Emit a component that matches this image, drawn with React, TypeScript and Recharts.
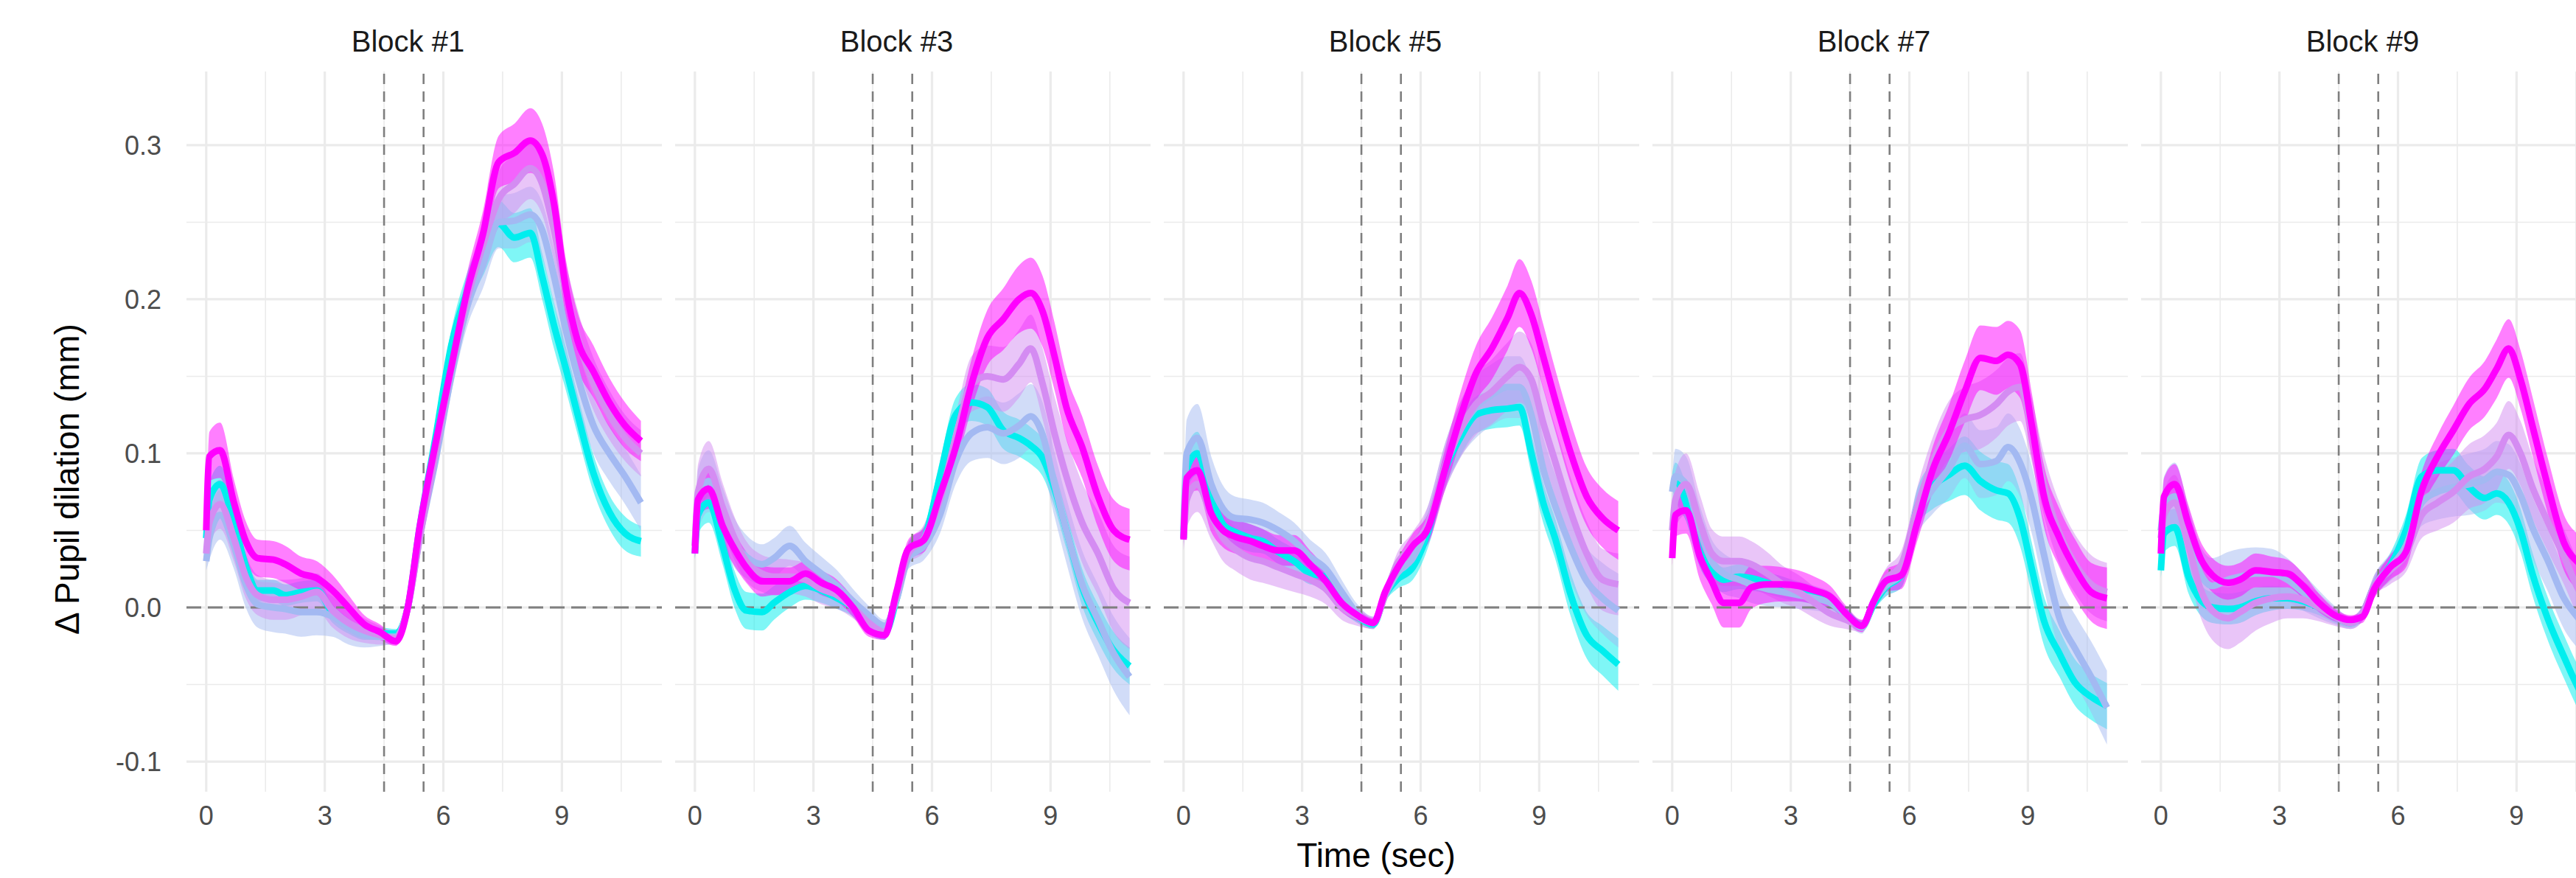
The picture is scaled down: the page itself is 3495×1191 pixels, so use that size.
import React from 'react';
import { ComposedChart, Area, Line, XAxis, YAxis, ReferenceLine } from 'recharts';

// ---------- data ----------
const TIME = [0, 0.08, 0.35, 0.7, 1.0, 1.3, 1.7, 2.0, 2.4, 2.8, 3.2, 3.6, 4.0, 4.4, 4.8, 5.1, 5.4, 5.8, 6.2, 6.6, 7.0, 7.4, 7.8, 8.2, 8.5, 8.8, 9.1, 9.4, 9.8, 10.2, 10.6, 11.0];

const BLOCK_LABELS = ['Block #1', 'Block #3', 'Block #5', 'Block #7', 'Block #9'];
const X_TICKS = [0, 3, 6, 9];
const X_MINOR = [1.5, 4.5, 7.5, 10.5];
const Y_TICKS = [-0.1, 0.0, 0.1, 0.2, 0.3];
const Y_MINOR = [-0.05, 0.05, 0.15, 0.25];
const EVENT_LINES = [4.5, 5.5];

// Block #1
const CYAN_1 = [0.045, 0.07, 0.08, 0.055, 0.027, 0.011, 0.011, 0.008, 0.01, 0.011, -0.004, -0.012, -0.017, -0.017, -0.017, 0.0, 0.052, 0.11, 0.17, 0.205, 0.228, 0.249, 0.24, 0.243, 0.215, 0.183, 0.155, 0.125, 0.087, 0.062, 0.048, 0.043];
const BLUE_1 = [0.03, 0.045, 0.06, 0.04, 0.015, 0.002, 0.0, -0.001, -0.003, -0.003, -0.006, -0.013, -0.018, -0.019, -0.019, 0.0, 0.045, 0.095, 0.15, 0.195, 0.222, 0.25, 0.251, 0.255, 0.245, 0.215, 0.18, 0.15, 0.118, 0.1, 0.085, 0.068];
const LILAC_1 = [0.035, 0.055, 0.067, 0.045, 0.02, 0.008, 0.005, 0.005, 0.007, 0.01, -0.002, -0.01, -0.015, -0.018, -0.02, 0.0, 0.045, 0.1, 0.155, 0.2, 0.235, 0.265, 0.275, 0.285, 0.275, 0.245, 0.205, 0.175, 0.145, 0.125, 0.11, 0.1];
const MAGENTA_1 = [0.05, 0.098, 0.102, 0.068, 0.043, 0.032, 0.031, 0.028, 0.022, 0.019, 0.011, 0.0, -0.011, -0.016, -0.022, 0.0, 0.052, 0.106, 0.156, 0.205, 0.242, 0.289, 0.295, 0.303, 0.294, 0.262, 0.207, 0.173, 0.153, 0.133, 0.118, 0.108];
const SE_CYAN_1 = [0.004, 0.011, 0.012, 0.01, 0.008, 0.007, 0.007, 0.007, 0.007, 0.007, 0.006, 0.005, 0.004, 0.004, 0.003, 0.004, 0.006, 0.008, 0.01, 0.012, 0.013, 0.015, 0.016, 0.016, 0.015, 0.015, 0.014, 0.013, 0.012, 0.011, 0.011, 0.01];
const SE_BLUE_1 = [0.006, 0.014, 0.016, 0.015, 0.015, 0.015, 0.016, 0.016, 0.016, 0.015, 0.013, 0.011, 0.008, 0.006, 0.004, 0.005, 0.007, 0.009, 0.011, 0.013, 0.015, 0.017, 0.018, 0.018, 0.018, 0.018, 0.018, 0.018, 0.018, 0.018, 0.018, 0.018];
const SE_LILAC_1 = [0.006, 0.014, 0.016, 0.015, 0.014, 0.013, 0.013, 0.013, 0.012, 0.012, 0.011, 0.01, 0.008, 0.006, 0.004, 0.005, 0.007, 0.009, 0.011, 0.013, 0.015, 0.018, 0.019, 0.02, 0.02, 0.02, 0.019, 0.018, 0.017, 0.016, 0.015, 0.015];
const SE_MAGENTA_1 = [0.004, 0.016, 0.018, 0.015, 0.013, 0.012, 0.012, 0.012, 0.011, 0.011, 0.01, 0.008, 0.006, 0.005, 0.003, 0.004, 0.006, 0.008, 0.01, 0.012, 0.015, 0.017, 0.019, 0.021, 0.02, 0.02, 0.019, 0.018, 0.017, 0.016, 0.015, 0.013];

// Block #3
const CYAN_3 = [0.035, 0.06, 0.068, 0.04, 0.012, -0.002, -0.003, 0.003, 0.01, 0.014, 0.011, 0.006, 0.0, -0.012, -0.017, 0.005, 0.036, 0.045, 0.085, 0.125, 0.133, 0.13, 0.115, 0.11, 0.105, 0.097, 0.077, 0.05, 0.013, -0.01, -0.028, -0.038];
const BLUE_3 = [0.04, 0.07, 0.082, 0.06, 0.042, 0.033, 0.028, 0.032, 0.04, 0.03, 0.022, 0.014, 0.004, -0.005, -0.012, 0.005, 0.032, 0.04, 0.06, 0.095, 0.113, 0.117, 0.113, 0.118, 0.124, 0.112, 0.08, 0.05, 0.015, -0.008, -0.03, -0.045];
const LILAC_3 = [0.04, 0.075, 0.09, 0.065, 0.045, 0.03, 0.022, 0.02, 0.02, 0.018, 0.012, 0.008, 0.0, -0.01, -0.016, 0.008, 0.035, 0.045, 0.07, 0.11, 0.145, 0.15, 0.148, 0.158, 0.168, 0.145, 0.113, 0.085, 0.055, 0.035, 0.012, 0.003];
const MAGENTA_3 = [0.035, 0.07, 0.077, 0.053, 0.038, 0.026, 0.017, 0.017, 0.017, 0.022, 0.016, 0.011, 0.0, -0.015, -0.018, 0.01, 0.038, 0.044, 0.073, 0.104, 0.145, 0.175, 0.187, 0.2, 0.204, 0.192, 0.163, 0.13, 0.104, 0.072, 0.05, 0.044];
const SE_CYAN_3 = [0.005, 0.012, 0.013, 0.012, 0.012, 0.012, 0.012, 0.011, 0.01, 0.009, 0.008, 0.007, 0.006, 0.005, 0.004, 0.005, 0.006, 0.008, 0.01, 0.011, 0.012, 0.012, 0.012, 0.012, 0.012, 0.012, 0.012, 0.012, 0.012, 0.012, 0.012, 0.012];
const SE_BLUE_3 = [0.008, 0.02, 0.02, 0.018, 0.016, 0.014, 0.013, 0.013, 0.013, 0.012, 0.011, 0.01, 0.008, 0.006, 0.004, 0.005, 0.007, 0.009, 0.012, 0.015, 0.018, 0.02, 0.02, 0.021, 0.021, 0.021, 0.021, 0.021, 0.022, 0.023, 0.024, 0.025];
const SE_LILAC_3 = [0.008, 0.018, 0.018, 0.016, 0.014, 0.013, 0.012, 0.012, 0.011, 0.011, 0.01, 0.009, 0.007, 0.005, 0.004, 0.005, 0.007, 0.009, 0.012, 0.015, 0.018, 0.02, 0.021, 0.022, 0.022, 0.023, 0.024, 0.025, 0.026, 0.027, 0.028, 0.03];
const SE_MAGENTA_3 = [0.005, 0.012, 0.013, 0.012, 0.011, 0.01, 0.01, 0.009, 0.009, 0.008, 0.008, 0.007, 0.006, 0.004, 0.003, 0.004, 0.006, 0.008, 0.01, 0.013, 0.016, 0.018, 0.02, 0.022, 0.023, 0.023, 0.022, 0.021, 0.02, 0.02, 0.02, 0.02];

// Block #5
const CYAN_5 = [0.045, 0.09, 0.1, 0.072, 0.054, 0.049, 0.045, 0.043, 0.036, 0.03, 0.022, 0.02, 0.003, -0.006, -0.011, 0.008, 0.018, 0.026, 0.05, 0.088, 0.11, 0.125, 0.128, 0.129, 0.13, 0.1, 0.068, 0.045, 0.008, -0.018, -0.028, -0.037];
const BLUE_5 = [0.05, 0.1, 0.11, 0.08, 0.064, 0.058, 0.057, 0.055, 0.05, 0.043, 0.033, 0.025, 0.01, -0.004, -0.01, 0.008, 0.022, 0.032, 0.055, 0.09, 0.115, 0.13, 0.138, 0.143, 0.143, 0.125, 0.09, 0.066, 0.039, 0.017, 0.006, -0.002];
const LILAC_5 = [0.045, 0.07, 0.08, 0.06, 0.045, 0.038, 0.032, 0.03, 0.026, 0.022, 0.018, 0.012, 0.0, -0.006, -0.01, 0.008, 0.028, 0.04, 0.055, 0.09, 0.115, 0.132, 0.14, 0.15, 0.156, 0.148, 0.12, 0.095, 0.062, 0.035, 0.018, 0.015];
const MAGENTA_5 = [0.044, 0.084, 0.089, 0.061, 0.05, 0.046, 0.043, 0.04, 0.037, 0.037, 0.028, 0.017, 0.003, -0.005, -0.01, 0.01, 0.025, 0.04, 0.052, 0.088, 0.123, 0.152, 0.168, 0.188, 0.204, 0.19, 0.163, 0.135, 0.1, 0.072, 0.058, 0.05];
const SE_CYAN_5 = [0.005, 0.014, 0.014, 0.012, 0.01, 0.009, 0.009, 0.008, 0.008, 0.008, 0.007, 0.006, 0.005, 0.004, 0.003, 0.004, 0.006, 0.008, 0.01, 0.011, 0.012, 0.012, 0.012, 0.012, 0.012, 0.013, 0.013, 0.013, 0.014, 0.015, 0.016, 0.017];
const SE_BLUE_5 = [0.008, 0.022, 0.022, 0.018, 0.015, 0.014, 0.013, 0.013, 0.012, 0.012, 0.011, 0.01, 0.008, 0.006, 0.004, 0.005, 0.007, 0.009, 0.012, 0.015, 0.018, 0.02, 0.02, 0.02, 0.02, 0.021, 0.021, 0.021, 0.022, 0.022, 0.023, 0.024];
const SE_LILAC_5 = [0.008, 0.018, 0.018, 0.016, 0.015, 0.014, 0.014, 0.014, 0.013, 0.012, 0.011, 0.01, 0.008, 0.006, 0.004, 0.005, 0.007, 0.009, 0.012, 0.015, 0.018, 0.02, 0.021, 0.022, 0.023, 0.023, 0.023, 0.023, 0.022, 0.021, 0.02, 0.02];
const SE_MAGENTA_5 = [0.005, 0.012, 0.013, 0.012, 0.011, 0.011, 0.011, 0.011, 0.01, 0.01, 0.009, 0.008, 0.006, 0.004, 0.003, 0.004, 0.006, 0.008, 0.01, 0.013, 0.016, 0.018, 0.02, 0.021, 0.022, 0.022, 0.021, 0.02, 0.02, 0.019, 0.019, 0.019];

// Block #7
const CYAN_7 = [0.082, 0.082, 0.068, 0.036, 0.024, 0.018, 0.02, 0.019, 0.016, 0.013, 0.01, 0.007, 0.004, -0.004, -0.012, 0.002, 0.013, 0.021, 0.065, 0.079, 0.086, 0.092, 0.082, 0.076, 0.074, 0.058, 0.025, -0.008, -0.03, -0.049, -0.058, -0.064];
const BLUE_7 = [0.075, 0.085, 0.08, 0.05, 0.03, 0.022, 0.018, 0.015, 0.012, 0.01, 0.008, 0.006, 0.003, -0.005, -0.013, 0.004, 0.014, 0.022, 0.06, 0.077, 0.09, 0.105, 0.093, 0.095, 0.104, 0.094, 0.07, 0.035, -0.007, -0.027, -0.045, -0.065];
const LILAC_7 = [0.05, 0.07, 0.08, 0.055, 0.035, 0.03, 0.03, 0.028, 0.022, 0.015, 0.01, 0.003, -0.004, -0.008, -0.012, 0.004, 0.018, 0.028, 0.065, 0.095, 0.115, 0.122, 0.125, 0.132, 0.14, 0.143, 0.115, 0.08, 0.048, 0.028, 0.015, 0.01];
const MAGENTA_7 = [0.032, 0.06, 0.063, 0.033, 0.017, 0.003, 0.003, 0.013, 0.015, 0.015, 0.014, 0.011, 0.007, -0.004, -0.012, 0.004, 0.017, 0.021, 0.055, 0.09, 0.113, 0.14, 0.162, 0.16, 0.164, 0.158, 0.118, 0.073, 0.045, 0.025, 0.01, 0.006];
const SE_CYAN_7 = [0.005, 0.012, 0.012, 0.01, 0.009, 0.008, 0.008, 0.008, 0.007, 0.007, 0.006, 0.005, 0.005, 0.004, 0.003, 0.004, 0.006, 0.008, 0.012, 0.015, 0.017, 0.019, 0.019, 0.019, 0.019, 0.018, 0.017, 0.016, 0.015, 0.015, 0.015, 0.015];
const SE_BLUE_7 = [0.008, 0.018, 0.018, 0.016, 0.014, 0.013, 0.012, 0.012, 0.011, 0.01, 0.009, 0.008, 0.007, 0.005, 0.004, 0.005, 0.007, 0.009, 0.013, 0.016, 0.019, 0.021, 0.022, 0.022, 0.022, 0.022, 0.022, 0.022, 0.022, 0.022, 0.023, 0.024];
const SE_LILAC_7 = [0.008, 0.018, 0.02, 0.018, 0.016, 0.016, 0.016, 0.015, 0.014, 0.012, 0.011, 0.01, 0.008, 0.006, 0.004, 0.005, 0.007, 0.009, 0.013, 0.016, 0.019, 0.021, 0.022, 0.022, 0.022, 0.022, 0.021, 0.02, 0.02, 0.019, 0.019, 0.019];
const SE_MAGENTA_7 = [0.005, 0.014, 0.015, 0.015, 0.015, 0.016, 0.016, 0.014, 0.012, 0.011, 0.01, 0.009, 0.007, 0.005, 0.004, 0.005, 0.007, 0.009, 0.012, 0.015, 0.018, 0.02, 0.021, 0.022, 0.022, 0.022, 0.021, 0.02, 0.019, 0.019, 0.019, 0.02];

// Block #9
const CYAN_9 = [0.024, 0.048, 0.052, 0.02, 0.005, 0.0, -0.001, 0.0, 0.004, 0.006, 0.006, 0.004, 0.0, -0.006, -0.01, -0.004, 0.014, 0.027, 0.05, 0.085, 0.089, 0.089, 0.078, 0.071, 0.074, 0.068, 0.05, 0.022, -0.008, -0.032, -0.054, -0.068];
const BLUE_9 = [0.05, 0.065, 0.072, 0.045, 0.022, 0.014, 0.018, 0.02, 0.022, 0.022, 0.018, 0.01, 0.002, -0.005, -0.01, -0.004, 0.014, 0.026, 0.04, 0.068, 0.075, 0.078, 0.08, 0.083, 0.088, 0.086, 0.073, 0.052, 0.03, 0.006, -0.008, -0.018];
const LILAC_9 = [0.045, 0.06, 0.068, 0.04, 0.012, -0.002, -0.007, -0.003, 0.003, 0.006, 0.007, 0.005, 0.0, -0.006, -0.01, -0.004, 0.014, 0.024, 0.035, 0.06, 0.068, 0.075, 0.085, 0.09, 0.098, 0.112, 0.1, 0.078, 0.055, 0.033, 0.01, -0.002];
const MAGENTA_9 = [0.035, 0.072, 0.08, 0.054, 0.032, 0.021, 0.016, 0.018, 0.024, 0.023, 0.022, 0.014, 0.003, -0.005, -0.008, -0.006, 0.012, 0.026, 0.036, 0.076, 0.098, 0.115, 0.132, 0.142, 0.155, 0.168, 0.148, 0.118, 0.078, 0.042, 0.028, 0.018];
const SE_CYAN_9 = [0.005, 0.012, 0.012, 0.011, 0.01, 0.01, 0.01, 0.01, 0.009, 0.008, 0.007, 0.006, 0.005, 0.004, 0.003, 0.004, 0.006, 0.008, 0.01, 0.012, 0.013, 0.014, 0.014, 0.014, 0.014, 0.014, 0.014, 0.014, 0.014, 0.014, 0.014, 0.014];
const SE_BLUE_9 = [0.008, 0.02, 0.022, 0.02, 0.018, 0.018, 0.018, 0.018, 0.017, 0.016, 0.014, 0.012, 0.009, 0.006, 0.004, 0.005, 0.007, 0.009, 0.012, 0.015, 0.018, 0.019, 0.02, 0.02, 0.02, 0.02, 0.02, 0.02, 0.02, 0.02, 0.02, 0.02];
const SE_LILAC_9 = [0.008, 0.016, 0.018, 0.018, 0.018, 0.019, 0.02, 0.02, 0.018, 0.016, 0.014, 0.012, 0.009, 0.006, 0.004, 0.005, 0.007, 0.009, 0.012, 0.015, 0.018, 0.02, 0.021, 0.022, 0.022, 0.022, 0.021, 0.02, 0.019, 0.018, 0.018, 0.018];
const SE_MAGENTA_9 = [0.005, 0.012, 0.013, 0.012, 0.011, 0.011, 0.011, 0.011, 0.011, 0.01, 0.009, 0.008, 0.006, 0.004, 0.003, 0.004, 0.006, 0.008, 0.01, 0.012, 0.014, 0.016, 0.017, 0.018, 0.019, 0.019, 0.019, 0.019, 0.018, 0.018, 0.018, 0.018];

const PANEL_MEANS = [
  { C: CYAN_1, B: BLUE_1, P: LILAC_1, M: MAGENTA_1 },
  { C: CYAN_3, B: BLUE_3, P: LILAC_3, M: MAGENTA_3 },
  { C: CYAN_5, B: BLUE_5, P: LILAC_5, M: MAGENTA_5 },
  { C: CYAN_7, B: BLUE_7, P: LILAC_7, M: MAGENTA_7 },
  { C: CYAN_9, B: BLUE_9, P: LILAC_9, M: MAGENTA_9 },
];
const PANEL_SE = [
  { C: SE_CYAN_1, B: SE_BLUE_1, P: SE_LILAC_1, M: SE_MAGENTA_1 },
  { C: SE_CYAN_3, B: SE_BLUE_3, P: SE_LILAC_3, M: SE_MAGENTA_3 },
  { C: SE_CYAN_5, B: SE_BLUE_5, P: SE_LILAC_5, M: SE_MAGENTA_5 },
  { C: SE_CYAN_7, B: SE_BLUE_7, P: SE_LILAC_7, M: SE_MAGENTA_7 },
  { C: SE_CYAN_9, B: SE_BLUE_9, P: SE_LILAC_9, M: SE_MAGENTA_9 },
];

// ---------- styling ----------
const SERIES = [
  { key: 'C', color: '#00EEEE' },
  { key: 'B', color: '#A3B9F2' },
  { key: 'P', color: '#D48CF2' },
  { key: 'M', color: '#FF00FF' },
];

const FONT = '"Liberation Sans", Arial, Helvetica, sans-serif';
const W = 3495;
const H = 1191;
const PANEL_X0 = 253;
const PANEL_STEP = 663;
const PLOT_W = 645;
const AXIS_W = 150;
const TOP = 97;
const X_AXIS_H = 117;
const X_DOMAIN: [number, number] = [-0.5, 11.53];
const Y_DOMAIN: [number, number] = [-0.1196, 0.3478];
const GRID = '#EBEBEB';
const REF = '#7F7F7F';

function buildRows(p: number) {
  const means = PANEL_MEANS[p] as any;
  const ses = PANEL_SE[p] as any;
  return TIME.map((t, i) => {
    const row: any = { t };
    SERIES.forEach((s) => {
      const m = means[s.key][i];
      const e = ses[s.key][i];
      row[s.key] = m;
      row[s.key + '_r'] = [m - e, m + e];
    });
    return row;
  });
}

function Panel({ index }: { index: number }) {
  const rows = buildRows(index);
  const first = index === 0;
  const tickStyle = { fill: '#4D4D4D', fontSize: 36, fontFamily: FONT };
  return (
    <div style={{ position: 'absolute', left: PANEL_X0 + index * PANEL_STEP - AXIS_W, top: 0 }}>
      <ComposedChart
        width={AXIS_W + PLOT_W + 5}
        height={H}
        data={rows}
        margin={{ top: TOP, right: 5, bottom: 0, left: 0 }}
      >
        <XAxis
          type="number"
          dataKey="t"
          domain={X_DOMAIN}
          ticks={X_TICKS}
          interval={0}
          allowDataOverflow
          axisLine={false}
          tickLine={false}
          tickSize={0}
          tickMargin={19}
          height={X_AXIS_H}
          tick={tickStyle}
        />
        <YAxis
          type="number"
          domain={Y_DOMAIN}
          ticks={Y_TICKS}
          interval={0}
          allowDataOverflow
          width={AXIS_W}
          axisLine={false}
          tickLine={false}
          tickSize={0}
          tickMargin={34}
          tick={first ? tickStyle : false}
          tickFormatter={(v: number) => v.toFixed(1)}
        />
        {X_MINOR.map((v) => (
          <ReferenceLine key={'xm' + v} x={v} stroke={GRID} strokeWidth={1.6} zIndex={-100} />
        ))}
        {Y_MINOR.map((v) => (
          <ReferenceLine key={'ym' + v} y={v} stroke={GRID} strokeWidth={1.6} zIndex={-100} />
        ))}
        {X_TICKS.map((v) => (
          <ReferenceLine key={'xM' + v} x={v} stroke={GRID} strokeWidth={3.2} zIndex={-100} />
        ))}
        {Y_TICKS.map((v) => (
          <ReferenceLine key={'yM' + v} y={v} stroke={GRID} strokeWidth={3.2} zIndex={-100} />
        ))}
        {SERIES.map((s) => (
          <Area
            key={'a' + s.key}
            type="monotone"
            dataKey={s.key + '_r'}
            stroke="none"
            fill={s.color}
            fillOpacity={0.5}
            dot={false}
            activeDot={false}
            isAnimationActive={false}
            zIndex={100}
          />
        ))}
        {EVENT_LINES.map((v) => (
          <ReferenceLine key={'ev' + v} x={v} stroke={REF} strokeWidth={2.6} strokeDasharray="14 10" zIndex={150} />
        ))}
        <ReferenceLine y={0} stroke={REF} strokeWidth={3} strokeDasharray="20 9" zIndex={150} />
        {SERIES.map((s) => (
          <Line
            key={'l' + s.key}
            type="monotone"
            dataKey={s.key}
            stroke={s.color}
            strokeWidth={9}
            strokeLinejoin="round"
            dot={false}
            activeDot={false}
            isAnimationActive={false}
            zIndex={400}
          />
        ))}
      </ComposedChart>
    </div>
  );
}

export default function App() {
  return (
    <div
      style={{
        position: 'absolute',
        left: 0,
        top: 0,
        width: W,
        height: H,
        overflow: 'hidden',
        background: '#FFFFFF',
        fontFamily: FONT,
      }}
    >
      {BLOCK_LABELS.map((_, i) => (
        <Panel key={i} index={i} />
      ))}
      <svg
        width={W}
        height={H}
        style={{ position: 'absolute', left: 0, top: 0, pointerEvents: 'none' }}
      >
        {BLOCK_LABELS.map((label, i) => (
          <text
            key={label}
            x={PANEL_X0 + PLOT_W / 2 - 22 + i * PANEL_STEP}
            y={70}
            textAnchor="middle"
            fontFamily={FONT}
            fontSize={40}
            fill="#1A1A1A"
          >
            {label}
          </text>
        ))}
        <text x={1867} y={1176} textAnchor="middle" fontFamily={FONT} fontSize={46} fill="#000000">
          Time (sec)
        </text>
        <text
          transform="translate(107, 650) rotate(-90)"
          textAnchor="middle"
          fontFamily={FONT}
          fontSize={46}
          fill="#000000"
        >
          Δ Pupil dilation (mm)
        </text>
      </svg>
    </div>
  );
}
